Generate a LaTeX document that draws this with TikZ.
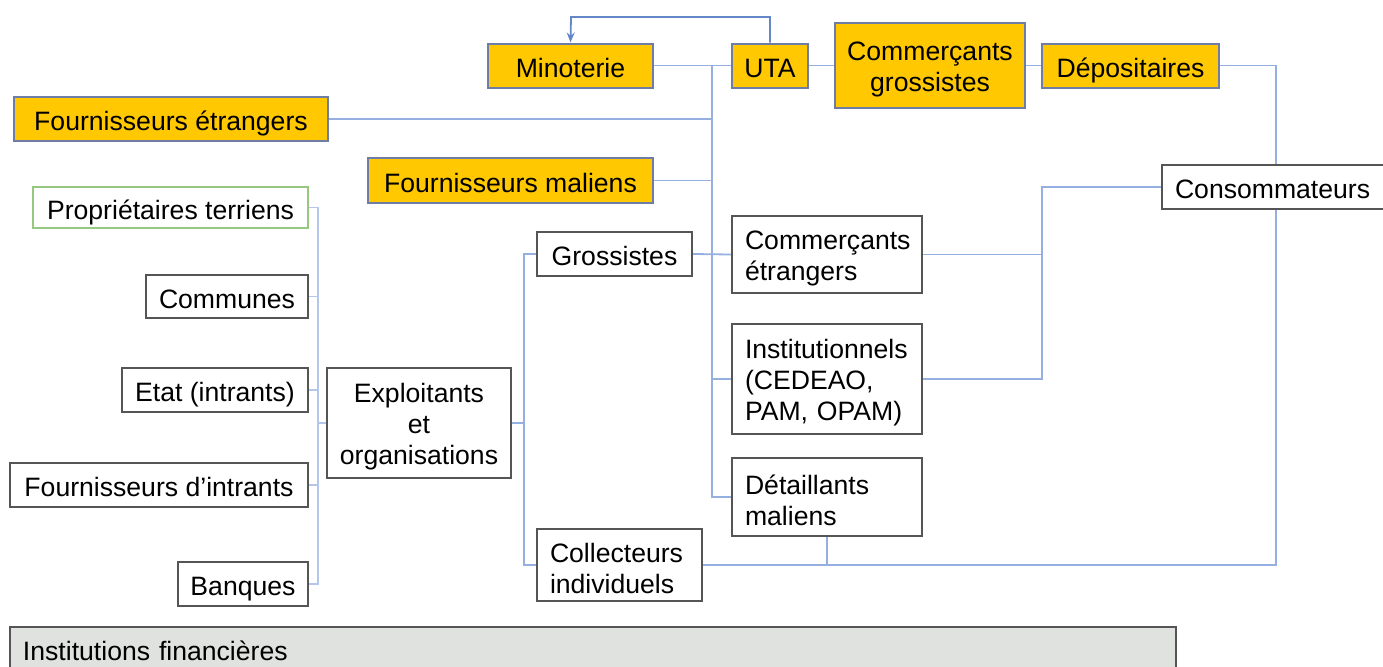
\documentclass[tikz,border=0pt]{standalone}
\usepackage{fontspec}
\setmainfont{Liberation Sans}
\usetikzlibrary{arrows.meta,backgrounds}
\definecolor{boxyellow}{RGB}{255,200,0}
\definecolor{boxblue}{RGB}{110,125,165}
\definecolor{boxgray}{RGB}{85,85,85}
\definecolor{boxgreen}{RGB}{150,200,130}
\definecolor{linkblue}{RGB}{150,175,225}
\definecolor{paleblue}{RGB}{180,198,236}
\definecolor{arrowblue}{RGB}{100,135,200}
\definecolor{bandgray}{RGB}{224,226,224}
\tikzset{
  actor/.style={draw=boxgray, fill=white, line width=1pt, inner sep=0pt, align=center,
    font=\fontsize{13.3}{15.5}\selectfont},
  oneline/.style={text height=12pt, text depth=0.5pt},
  multiline/.style={text height=13pt},
  filiere/.style={actor, draw=boxblue, fill=boxyellow},
  leftbox/.style={actor, align=left, inner xsep=6.5pt, text width=#1},
  link/.style={draw=linkblue, line width=0.9pt},
  faintlink/.style={draw=paleblue, line width=0.7pt},
}
\begin{document}
\begin{tikzpicture}[x=0.5pt,y=-0.5pt]
\useasboundingbox (0,0) rectangle (1383,666);
% filiere importee (jaune)
\node[filiere, oneline, minimum width=82.5pt, minimum height=22pt] (mino) at (570.5,65.5) {Minoterie};
\node[filiere, oneline, minimum width=38pt, minimum height=22pt] (uta) at (770,65.5) {UTA};
\node[filiere, multiline, text width=95pt, minimum height=42.5pt] (cgros) at (930,65.5) {Commerçants\\grossistes};
\node[filiere, oneline, minimum width=88.5pt, minimum height=22pt] (depo) at (1130.5,65.5) {Dépositaires};
\node[filiere, oneline, minimum width=157pt, minimum height=22pt] (fetr) at (171,119) {Fournisseurs étrangers};
\node[filiere, oneline, minimum width=142.5pt, minimum height=22.5pt] (fmal) at (510.5,180.5) {Fournisseurs maliens};
% amont
\node[actor, oneline, draw=boxgreen, minimum width=137.5pt, minimum height=20.5pt] (prop) at (170.5,207.5) {Propriétaires terriens};
\node[actor, oneline, minimum width=81pt, minimum height=21.5pt] (comm) at (227,296.5) {Communes};
\node[actor, oneline, minimum width=93pt, minimum height=22pt] (etat) at (215,390) {Etat (intrants)};
\node[actor, oneline, minimum width=149pt, minimum height=22pt] (fint) at (159,485) {Fournisseurs d’intrants};
\node[actor, oneline, minimum width=65pt, minimum height=22pt] (banq) at (243,584) {Banques};
\node[actor, multiline, text width=92pt, minimum height=55pt] (expl) at (419,423) {Exploitants\\et\\organisations};
% aval
\node[actor, oneline, minimum width=77.5pt, minimum height=22pt] (gros) at (614.5,254) {Grossistes};
\node[leftbox=69.5pt, multiline, minimum height=36pt] (coll) at (619.5,565) {Collecteurs\\individuels};
\node[leftbox=82pt, multiline, minimum height=38.5pt] (cetr) at (827,254.5) {Commerçants\\étrangers};
\node[leftbox=82pt, multiline, minimum height=55pt] (inst) at (827,379) {Institutionnels\\(CEDEAO,\\PAM, OPAM)};
\node[leftbox=82pt, multiline, minimum height=39pt] (detail) at (827,497) {Détaillants\\maliens};
\node[leftbox=100pt, oneline, minimum height=22pt] (cons) at (1275,187) {Consommateurs};
\node[actor, fill=bandgray, anchor=north west, align=left, text width=570pt, inner xsep=6.5pt,
  inner ysep=7pt, text depth=10pt] (instfin) at (9,626) {Institutions financières};
% liaisons
\coordinate (k1) at (318,423);
\coordinate (k2) at (524,423);
\coordinate (k3) at (712,65.5);
\coordinate (k4) at (571,17);
\coordinate (k5) at (1042,187);
\coordinate (k6) at (1276,565);
\begin{scope}[on background layer]
\draw[faintlink] (prop.east) -| (k1) (banq.east) -| (k1);
\foreach \n in {comm,etat,fint}
  \draw[faintlink] (\n.east) -- (\n.east -| k1);
\draw[faintlink] (k1) -- (expl.west);
\draw[link] (expl.east) -- (k2);
\draw[link] (gros.west) -| (k2) (coll.west) -| (k2);
\draw[link] (mino.east) -- (uta.west);
\draw[link] (uta.east) -- (cgros.west);
\draw[link] (cgros.east) -- (depo.west);
\draw[link] (k3) |- (detail.west);
\foreach \n in {fetr,fmal}
  \draw[link] (\n.east) -- (\n.east -| k3);
\draw[link] (inst.west) -- (inst.west -| k3);
\draw[link] (gros.east) -- (cetr.west);
\draw[link, draw=arrowblue, -{Stealth[length=5pt,width=4pt]}] (uta.north) |- (k4) -- (mino.north);
\draw[link] (cetr.east) -| (k5) -- (cons.west);
\draw[link] (inst.east) -| (k5);
\draw[link] (depo.east) -| (k6) -- (coll.east);
\draw[link] (detail.south) -- (detail.south |- k6);
\end{scope}
\end{tikzpicture}
\end{document}
